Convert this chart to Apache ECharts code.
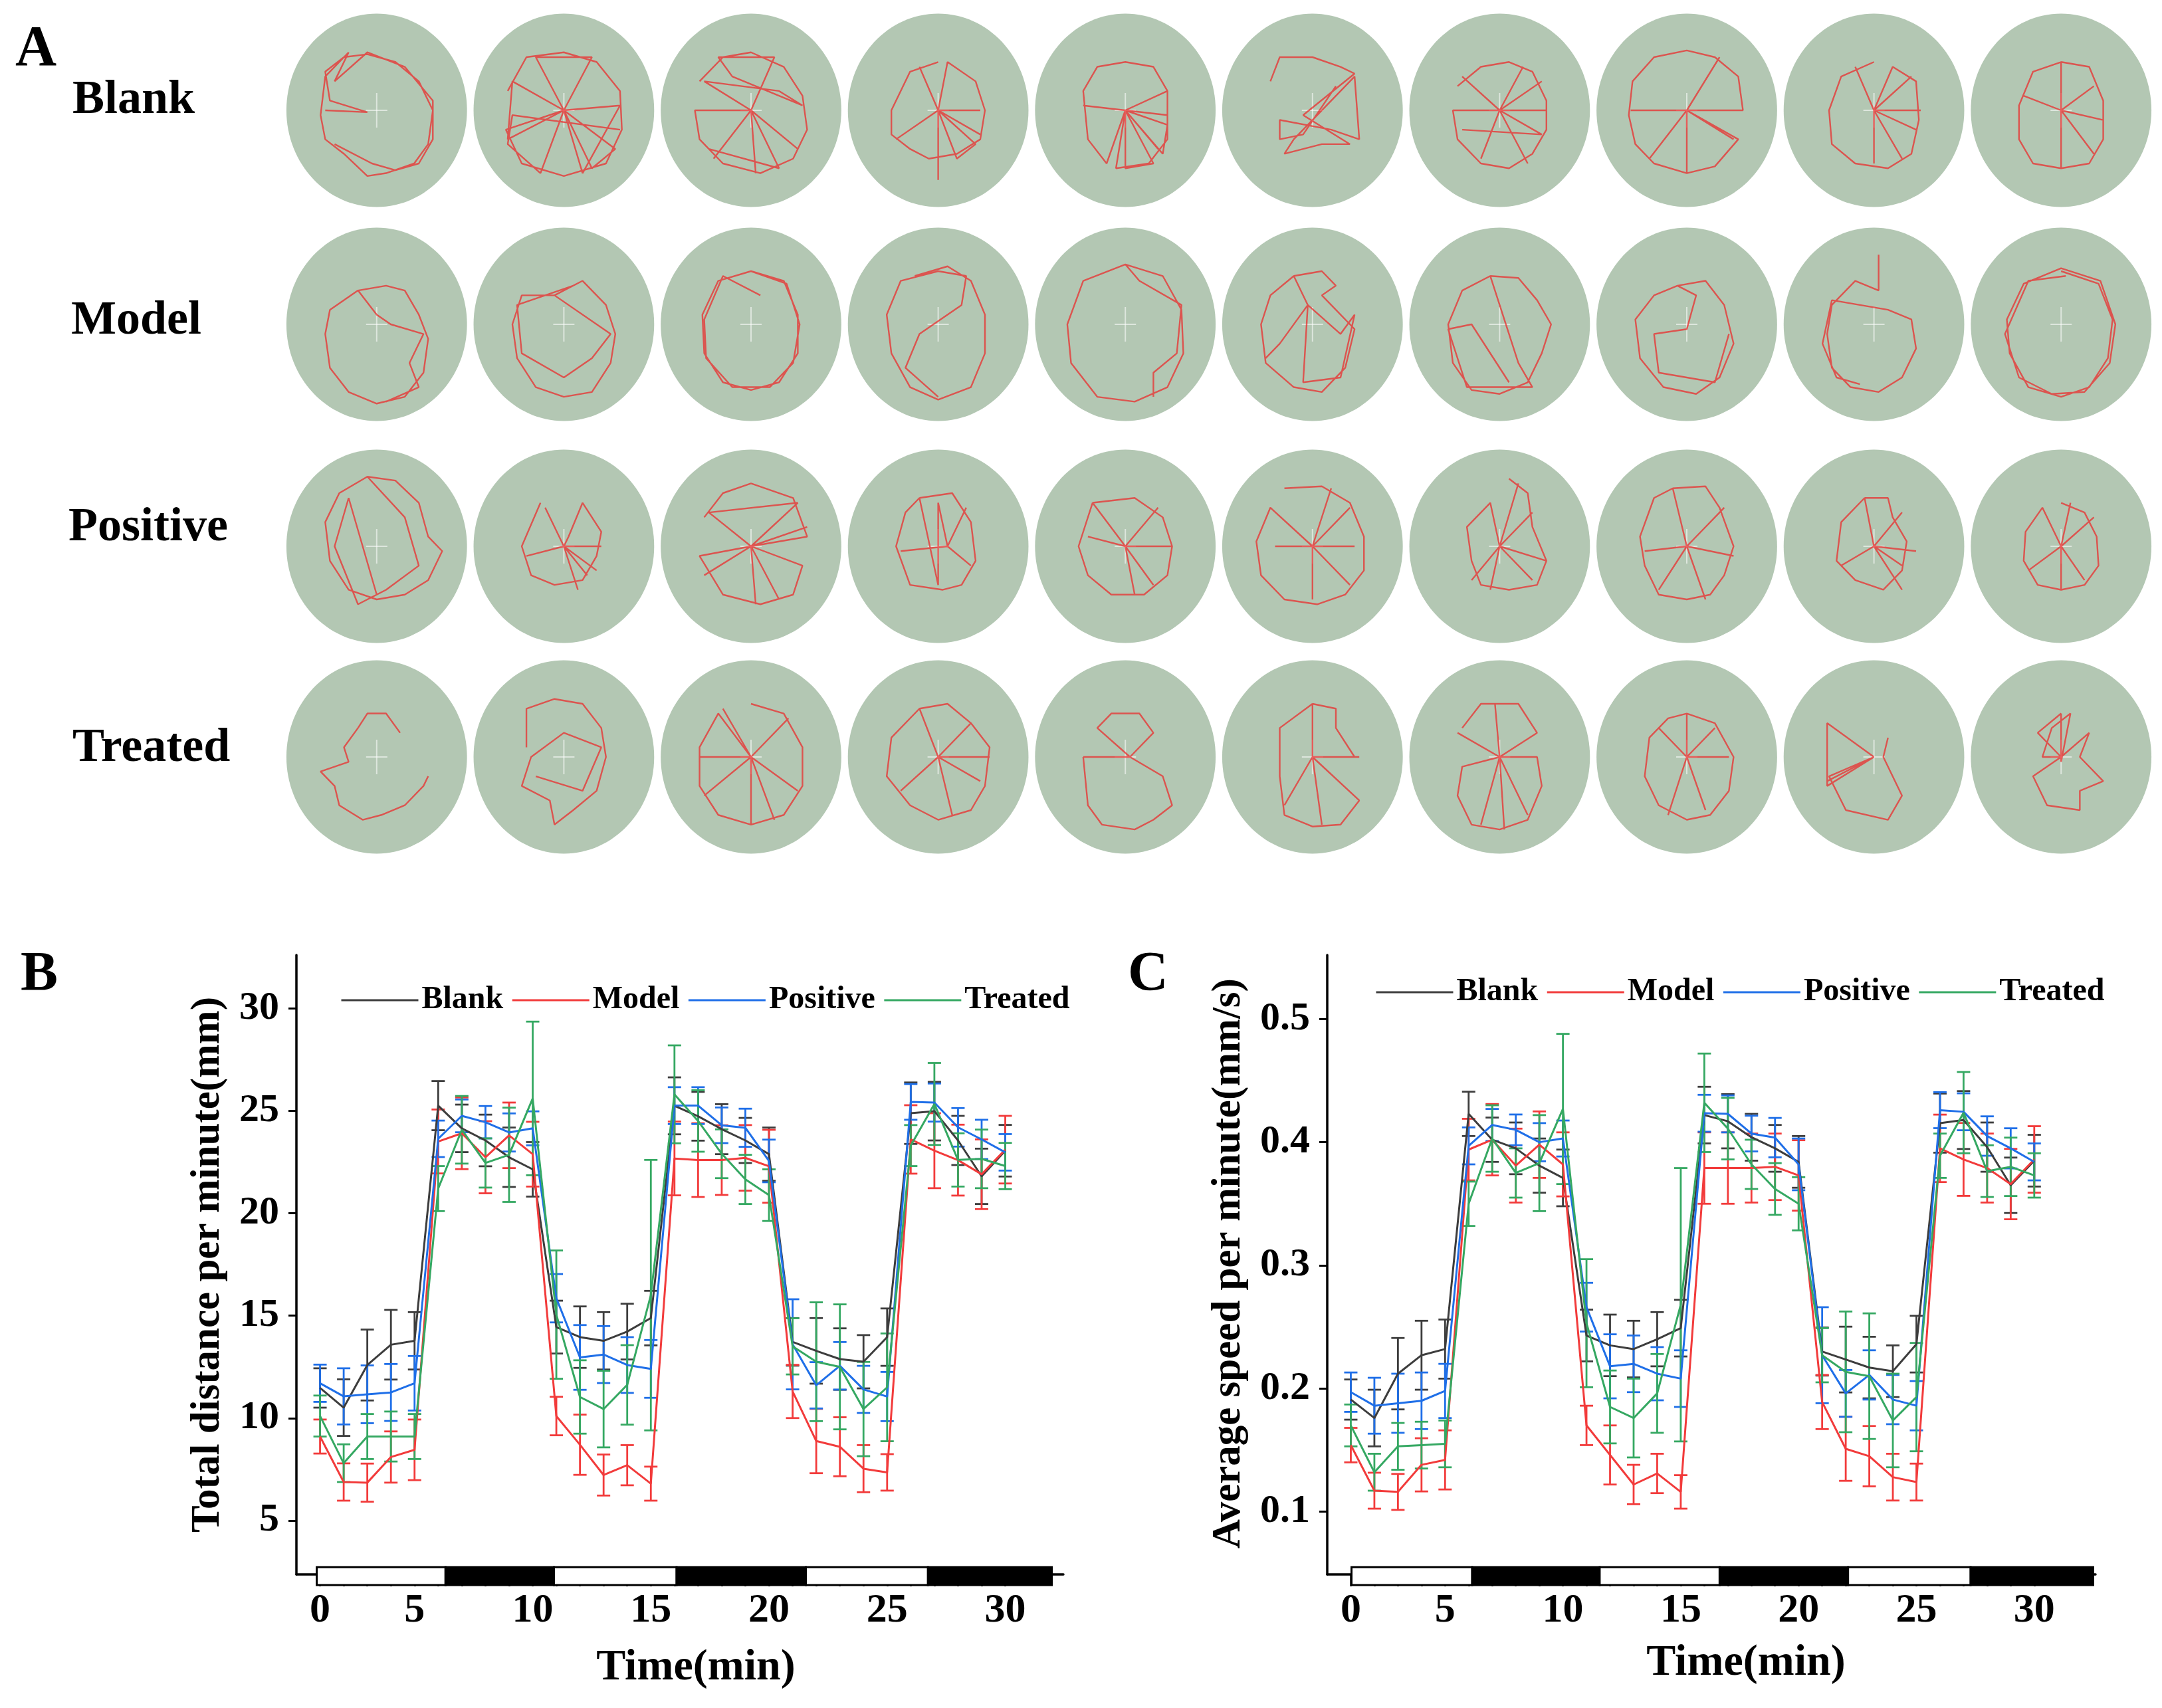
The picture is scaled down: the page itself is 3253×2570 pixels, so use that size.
<!DOCTYPE html>
<html>
<head>
<meta charset="utf-8">
<script src="https://cdn.jsdelivr.net/npm/echarts@6/dist/echarts.min.js"></script>
<style>
html, body { margin: 0; padding: 0; background: #fff; }
#main { width: 3253px; height: 2570px; }
</style>
</head>
<body>
<div id="main"></div>
<script>
// groups and time points
var groups = ['Blank', 'Model', 'Positive', 'Treated'];
var minutes = [1,2,3,4,5,6,7,8,9,10,11,12,13,14,15,16,17,18,19,20,21,22,23,24,25,26,27,28,29,30];
var xTickValues = [1, 5, 10, 15, 20, 25, 30];
var xTickLabels = ['0', '5', '10', '15', '20', '25', '30'];
var distTicks = [5, 10, 15, 20, 25, 30];
var speedTicks = [0.1, 0.2, 0.3, 0.4, 0.5];

// light / dark phases under the time axis: [start, end, dark]
var distPhases = [[0.86, 6.31, 0], [6.31, 10.9, 1], [10.9, 16.09, 0], [16.09, 21.56, 1], [21.56, 26.73, 0], [26.73, 31.97, 1]];
var speedPhases = [[1.03, 6.15, 0], [6.15, 11.56, 1], [11.56, 16.65, 0], [16.65, 22.1, 1], [22.1, 27.3, 0], [27.3, 32.5, 1]];

// B: total distance per minute (mm), mean and error
var distBlank = [11.47,10.51,12.59,13.58,13.77,25.25,24.14,23.55,22.73,22.14,14.44,13.95,13.77,14.22,14.88,25.24,24.73,24.1,23.55,22.88,13.72,13.28,12.88,12.75,13.95,24.88,24.98,23.55,21.8,23.05];
var distBlankSd = [0.96,1.38,1.73,1.7,1.4,1.2,1.16,1.26,1.45,1.33,1.29,1.5,1.4,1.36,1.33,1.39,1.19,1.22,1.1,1.3,1.16,1.6,1.5,1.3,1.4,1.5,1.43,1.2,1.35,1.26];
var distModel = [9.1,6.88,6.85,8.1,8.45,23.5,23.9,22.73,23.8,22.88,10.1,8.7,7.22,7.7,6.8,22.67,22.59,22.59,22.7,22.29,11.3,8.88,8.6,7.53,7.35,23.6,23.05,22.59,21.9,23.1];
var distModelSd = [0.83,0.91,0.93,1.25,1.48,1.56,1.75,1.76,1.6,1.58,0.94,1.47,1.0,0.98,0.83,1.8,1.8,1.7,1.6,1.78,1.3,1.57,1.44,1.15,0.89,1.67,1.83,1.73,1.7,1.65];
var distPositive = [11.7,11.06,11.16,11.25,11.7,23.63,24.75,24.44,23.94,24.14,15.85,12.96,13.1,12.59,12.4,25.25,25.25,24.29,24.17,22.55,13.6,11.6,12.55,11.4,11.05,25.43,25.4,24.19,23.6,22.97];
var distPositiveSd = [0.91,1.37,1.41,1.39,1.33,0.89,0.8,0.79,0.93,0.83,1.18,1.58,1.39,1.36,1.41,0.9,0.9,0.87,0.93,1.04,2.2,1.13,1.16,1.15,1.2,0.87,0.93,0.94,0.96,0.89];
var distTreated = [10.1,7.8,9.1,9.1,9.1,21.2,24.07,22.45,22.85,25.6,15.05,11.03,10.44,11.62,16.0,25.8,24.5,22.9,21.65,20.88,13.5,12.75,12.5,10.44,11.5,23.3,25.33,22.6,22.65,22.3];
var distTreatedSd = [1.0,0.92,1.1,1.22,1.1,1.1,1.65,1.2,2.3,3.75,3.13,1.79,1.87,1.94,6.6,2.39,1.5,1.19,1.2,1.26,1.37,2.9,3.05,2.3,2.63,1.0,2.0,1.3,1.43,1.13];

// C: average speed per minute (mm/s), mean and error
var speedBlank = [0.191,0.176,0.212,0.227,0.232,0.423,0.402,0.395,0.381,0.371,0.243,0.235,0.232,0.240,0.249,0.422,0.417,0.404,0.395,0.384,0.230,0.2235,0.217,0.214,0.236,0.4155,0.418,0.396,0.365,0.385];
var speedBlankSd = [0.0163,0.023,0.029,0.028,0.024,0.018,0.018,0.021,0.022,0.023,0.021,0.025,0.023,0.022,0.023,0.023,0.022,0.019,0.019,0.021,0.0195,0.0267,0.025,0.021,0.023,0.024,0.0235,0.02,0.0225,0.021];
var speedModel = [0.154,0.117,0.116,0.138,0.142,0.394,0.402,0.381,0.398,0.382,0.170,0.146,0.122,0.131,0.116,0.379,0.379,0.379,0.380,0.373,0.189,0.151,0.145,0.128,0.124,0.395,0.386,0.379,0.366,0.386];
var speedModelSd = [0.014,0.0146,0.0146,0.0216,0.024,0.025,0.029,0.03,0.027,0.026,0.016,0.024,0.016,0.016,0.0136,0.029,0.029,0.028,0.027,0.0286,0.022,0.026,0.0245,0.019,0.015,0.0274,0.0296,0.028,0.0286,0.027];
var speedPositive = [0.197,0.186,0.188,0.190,0.198,0.397,0.414,0.410,0.400,0.403,0.266,0.218,0.220,0.212,0.208,0.4235,0.423,0.407,0.4037,0.382,0.227,0.196,0.211,0.191,0.186,0.426,0.4247,0.405,0.395,0.384];
var speedPositiveSd = [0.016,0.0227,0.024,0.023,0.022,0.015,0.013,0.0125,0.0155,0.0146,0.0198,0.026,0.023,0.0216,0.023,0.015,0.015,0.0145,0.016,0.021,0.039,0.019,0.02,0.02,0.02,0.0146,0.015,0.016,0.0163,0.015];
var speedTreated = [0.170,0.132,0.153,0.154,0.155,0.350,0.403,0.375,0.383,0.427,0.253,0.185,0.176,0.196,0.268,0.432,0.411,0.382,0.362,0.350,0.227,0.2135,0.210,0.174,0.193,0.389,0.424,0.3765,0.380,0.373];
var speedTreatedSd = [0.017,0.015,0.019,0.019,0.019,0.018,0.027,0.02,0.039,0.061,0.052,0.0296,0.032,0.032,0.111,0.04,0.025,0.02,0.021,0.0216,0.022,0.049,0.051,0.038,0.044,0.018,0.033,0.021,0.0237,0.018];

// A: traced paths of the 10 animals per group, as u,v pairs (arena radius = 1, v downwards)
var trackBlank = [
  [-0.55,0,-0.1,0.02,-0.5,-0.1,-0.55,-0.4,-0.35,-0.55,-0.1,-0.58,0.2,-0.5,0.45,-0.3,0.6,0,0.55,0.35,0.4,0.55,0.1,0.65,-0.1,0.68,-0.35,0.45,-0.55,0.3,-0.6,0.05,-0.55,-0.35,-0.3,-0.6,-0.45,-0.3,-0.1,-0.6,0.3,-0.45,0.6,-0.1,0.6,0.3,0.45,0.55,0.2,0.62,-0.05,0.55,-0.45,0.35],
  [-0.6,-0.2,-0.4,-0.55,0,-0.6,0.35,-0.5,0.6,-0.2,0.62,0.2,0.45,0.55,0,0.68,-0.45,0.55,-0.62,0.2,0,0,0.55,0.4,0.3,0.6,0,0,-0.3,-0.55,0.3,-0.55,0,0,-0.6,0.3,-0.55,-0.3,0,0,0.6,-0.05,0.2,0.65,0,0,-0.25,0.65,-0.6,0.35,-0.55,0.05,0.6,0.2],
  [-0.55,-0.3,-0.3,-0.55,0,-0.6,0.35,-0.45,0.55,-0.15,0.6,0.2,0.45,0.5,0.1,0.65,-0.3,0.55,-0.55,0.3,-0.6,0,0,0,0.05,0.65,0,0,-0.4,0.5,0,0,0.5,0.4,0,0,-0.5,-0.3,0.3,-0.2,0.55,-0.05,-0.2,-0.35,-0.35,-0.55,0.25,-0.55,0,0,0.3,0.6,-0.45,0.4],
  [0,-0.5,-0.3,-0.4,-0.5,0,-0.5,0.25,-0.3,0.4,-0.1,0.5,0.2,0.45,0.45,0.3,0.5,0,0.4,-0.3,0.1,-0.5,0,0,0,0.72,0,0,0.45,0,0,0,-0.45,0.3,0,0,0.4,0.35,0.2,0.5,0,0,-0.2,-0.45,0,0,0.45,0.25],
  [-0.45,-0.05,0,0,0.45,-0.2,0,0,0.45,0.15,0.4,0.45,0,0,0.3,0.55,0,0.6,0,0,-0.2,0.55,-0.4,0.3,-0.45,-0.2,-0.3,-0.45,0,-0.5,0.3,-0.45,0.45,-0.2,0.45,0.3,0.25,0.55,-0.1,0.6,0,0,0.35,0.4,0,0,0.45,0.05],
  [-0.45,-0.3,-0.35,-0.55,0,-0.55,0.3,-0.45,0.45,-0.38,-0.1,0.05,0.4,0.35,0.1,0.35,-0.3,0.45,-0.2,0.3,0.45,-0.35,0.5,0.3,0.2,0.2,-0.35,0.1,-0.35,0.3,-0.1,0.25,0.25,-0.25],
  [-0.45,-0.25,-0.2,-0.45,0.1,-0.5,0.35,-0.4,0.5,-0.1,0.5,0.2,0.35,0.45,0.1,0.6,-0.2,0.55,-0.45,0.3,-0.5,0,0,0,0.5,0,0,0,0.3,0.55,0,0,-0.4,-0.35,0,0,0.45,-0.3,0,0,-0.2,0.5,0,0,0.25,-0.45,0,0,0.45,0.25,-0.4,0.2],
  [-0.6,0,0.6,0,0.55,-0.35,0.3,-0.55,0,-0.62,-0.35,-0.55,-0.58,-0.3,-0.62,0.05,-0.55,0.35,-0.35,0.55,0,0.65,0.3,0.58,0.55,0.3,0,0,0,0.65,0,0,0.35,-0.55,0,0,-0.4,0.5,0,0,0.5,0.3],
  [0,-0.5,-0.35,-0.35,-0.48,0,-0.45,0.35,-0.2,0.55,0.15,0.6,0.4,0.45,0.48,0.1,0.45,-0.3,0.2,-0.45,0,0,0.5,0,0,0,0.45,0.2,0,0,0,0.55,0,0,0.3,0.5,0,0,0.4,-0.35,0,0,-0.2,-0.45],
  [0,-0.5,0.3,-0.45,0.45,-0.1,0.45,0.3,0.3,0.55,0,0.6,-0.3,0.55,-0.45,0.3,-0.45,-0.05,-0.3,-0.4,0,-0.5,0,0,0.35,-0.25,0,0,0.45,0.1,0,0,0,0.6,0,0,0.35,0.45,0,0,-0.4,-0.15]
];
var trackModel = [
  [-0.2,-0.35,0.1,-0.4,0.3,-0.35,0.45,-0.1,0.55,0.15,0.5,0.5,0.3,0.75,0,0.82,-0.3,0.7,-0.5,0.45,-0.55,0.1,-0.5,-0.15,-0.2,-0.35,0,-0.1,0.15,0,0.5,0.1,0.35,0.4,0.45,0.65,0.1,0.8],
  [-0.1,-0.3,0.2,-0.45,0.45,-0.2,0.55,0.1,0.5,0.4,0.3,0.7,0,0.75,-0.3,0.65,-0.5,0.35,-0.55,0,-0.45,-0.3,-0.1,-0.3,0.5,0.1,0.3,0.35,0,0.55,-0.45,0.3,-0.5,-0.2,0.1,-0.4],
  [0,-0.55,0.35,-0.45,0.5,-0.1,0.5,0.3,0.3,0.6,0,0.68,-0.3,0.6,-0.5,0.3,-0.52,-0.1,-0.35,-0.45,0,-0.55,0.38,-0.42,0.52,0,0.45,0.4,0.2,0.65,-0.2,0.65,-0.48,0.35,-0.5,-0.05,-0.3,-0.5,0.1,-0.3],
  [-0.25,-0.5,0.1,-0.6,0.35,-0.45,0.5,-0.1,0.5,0.3,0.35,0.65,0,0.78,-0.3,0.65,-0.5,0.3,-0.55,-0.1,-0.4,-0.45,0,-0.55,0.3,-0.5,0.25,-0.2,-0.2,0.1,-0.35,0.45,0,0.75],
  [0,-0.62,0.4,-0.5,0.6,-0.15,0.62,0.3,0.45,0.65,0.1,0.8,-0.3,0.75,-0.58,0.4,-0.62,0,-0.45,-0.45,0,-0.62,0.15,-0.45,0.6,-0.2,0.55,0.3,0.3,0.5,0.3,0.75],
  [-0.2,-0.5,0.1,-0.55,0.25,-0.4,0.1,-0.3,0.45,0.05,0.35,0.45,0.1,0.7,-0.2,0.65,-0.5,0.4,-0.55,0,-0.45,-0.3,-0.2,-0.5,-0.05,-0.2,0.3,0.1,0.45,-0.1,0.3,0.55,-0.1,0.6,-0.05,-0.2,-0.35,0.2,-0.5,0.35],
  [-0.1,-0.5,0.2,-0.48,0.4,-0.25,0.55,0,0.45,0.3,0.3,0.6,0,0.72,-0.3,0.68,-0.5,0.4,-0.55,0,-0.4,-0.35,-0.1,-0.5,0,-0.2,0.2,0.4,0.35,0.65,-0.35,0.65,-0.55,0.05,-0.3,0,0.1,0.6],
  [-0.1,-0.4,0.2,-0.45,0.4,-0.2,0.5,0.2,0.35,0.55,0.1,0.72,-0.25,0.65,-0.5,0.35,-0.55,-0.05,-0.35,-0.3,-0.1,-0.4,0.1,-0.3,0,0.05,-0.35,0.1,-0.3,0.5,0.3,0.6,0.45,0.1],
  [0.05,-0.72,0.05,-0.35,-0.2,-0.45,-0.45,-0.2,-0.5,0.1,-0.45,0.45,-0.25,0.65,0.05,0.7,0.3,0.55,0.45,0.25,0.4,-0.05,0.15,-0.15,-0.45,-0.25,-0.55,0.2,-0.4,0.55,-0.15,0.62],
  [0,-0.55,0.4,-0.42,0.55,-0.05,0.5,0.35,0.3,0.65,0,0.75,-0.35,0.65,-0.55,0.3,-0.58,-0.05,-0.4,-0.42,0,-0.58,0.42,-0.45,0.58,0,0.52,0.4,0.25,0.7,-0.1,0.72,-0.45,0.55,-0.6,0.1,-0.35,-0.45,0.05,-0.5]
];
var trackPositive = [
  [-0.1,-0.72,0.2,-0.68,0.45,-0.45,0.55,-0.1,0.7,0.05,0.55,0.35,0.3,0.5,0,0.55,-0.3,0.45,-0.5,0.15,-0.55,-0.25,-0.4,-0.55,-0.1,-0.72,0.3,-0.3,0.45,0.2,0.1,0.45,-0.2,0.6,-0.45,0,-0.3,-0.5,0,0.5],
  [-0.25,-0.45,-0.45,0,-0.35,0.3,-0.1,0.4,0.2,0.35,0.35,0.1,0.4,-0.15,0.2,-0.45,0.05,-0.1,0,0,0.25,0.3,0,0,0.35,0.25,0,0,-0.4,0.1,0,0,0.4,0,0,0,0.15,0.45,0,0,-0.2,-0.4],
  [-0.5,-0.3,-0.3,-0.55,0,-0.65,0.45,-0.5,0.6,-0.1,0,0,0.55,0.2,0.45,0.5,0.1,0.6,-0.3,0.5,-0.55,0.1,0,0,-0.5,0.3,0,0,0.3,0.55,0,0,-0.45,-0.35,0.5,-0.45,0,0,0.6,-0.2,0,0,0.05,0.6],
  [-0.2,-0.5,0.15,-0.55,0.35,-0.25,0.4,0.15,0.25,0.4,0.05,0.45,-0.3,0.4,-0.45,0,-0.35,-0.35,-0.2,-0.5,0,0.4,0,-0.45,0.1,0,0.3,-0.4,0.1,0,-0.4,0.05,0.1,0,0.35,0.2],
  [-0.35,-0.45,0.1,-0.5,0.4,-0.3,0.5,0,0.45,0.3,0.2,0.5,-0.15,0.5,-0.4,0.3,-0.5,0,-0.35,-0.45,0,0,0.5,0,0,0,0.1,0.5,0,0,-0.4,-0.1,0,0,0.35,-0.4,0,0,0.3,0.4],
  [-0.3,-0.6,0.1,-0.62,0.4,-0.45,0.55,-0.1,0.55,0.25,0.35,0.5,0.05,0.6,-0.3,0.55,-0.55,0.3,-0.6,-0.05,-0.45,-0.4,0,0,0.2,-0.6,0,0,0.4,-0.4,0,0,0.45,0,0,0,0.4,0.4,0,0,-0.4,0,0,0,0,0.55],
  [0.1,-0.7,0.3,-0.55,0.35,-0.2,0.5,0.15,0.4,0.4,0.1,0.45,-0.2,0.4,-0.3,0.15,-0.35,-0.2,-0.1,-0.45,0,0,0.2,-0.65,0,0,0.35,-0.35,0,0,0.35,0.35,0,0,-0.3,0.35,0,0,0.5,0.15,0,0,-0.1,0.45],
  [-0.15,-0.6,0.2,-0.62,0.35,-0.4,0.5,0,0.4,0.3,0.25,0.5,0,0.55,-0.3,0.5,-0.45,0.2,-0.5,-0.1,-0.35,-0.5,-0.15,-0.6,0,0,-0.45,0.05,0,0,0.4,-0.4,0,0,-0.3,0.45,0,0,0.2,0.55,0,0,0.5,0.1],
  [-0.1,-0.5,0.15,-0.5,0.2,-0.3,0.35,-0.05,0.3,0.25,0.1,0.45,-0.2,0.35,-0.4,0.15,-0.35,-0.25,-0.1,-0.5,0,0,0.3,-0.35,0,0,0.45,0.05,0,0,0.3,0.2,0,0,0.3,0.45,0,0,-0.35,0.2],
  [0,-0.45,0.25,-0.35,0.38,-0.1,0.4,0.2,0.25,0.4,0,0.45,-0.25,0.4,-0.4,0.15,-0.38,-0.15,-0.2,-0.4,0,0,0.35,-0.3,0,0,0,0.45,0,0,-0.35,0.25,0,0,0.25,0.35,0,0,0.1,-0.45]
];
var trackTreated = [
  [0.25,-0.25,0.1,-0.45,-0.1,-0.45,-0.2,-0.3,-0.35,-0.1,-0.3,0.05,-0.6,0.15,-0.45,0.3,-0.4,0.5,-0.15,0.65,0.05,0.6,0.3,0.5,0.5,0.3,0.55,0.2],
  [-0.4,-0.1,-0.4,-0.5,-0.1,-0.6,0.2,-0.55,0.4,-0.3,0.45,0,0.35,0.35,0.1,0.55,-0.1,0.7,-0.15,0.45,-0.45,0.3,-0.35,0,0,-0.25,0.4,-0.1,0.2,0.35,-0.3,0.2],
  [0,-0.55,0.35,-0.45,0.55,-0.1,0.55,0.3,0.35,0.6,0,0.7,-0.35,0.6,-0.55,0.3,-0.55,-0.1,-0.35,-0.45,0,0,0,0.7,0,0,-0.5,0.4,0,0,0.5,0.35,0,0,-0.3,-0.5,0,0,0.4,-0.4,0,0,-0.55,0,0,0,0.25,0.65],
  [-0.2,-0.5,0.1,-0.55,0.35,-0.35,0.55,-0.1,0.5,0.3,0.35,0.55,0,0.65,-0.3,0.5,-0.55,0.2,-0.5,-0.2,-0.2,-0.5,0,0,0.55,0,0,0,0.45,0.25,0,0,-0.4,0.35,0,0,0.15,0.6,0,0,0.35,-0.35],
  [-0.45,0,0.05,0,-0.3,-0.3,-0.15,-0.45,0.15,-0.45,0.3,-0.25,0.05,0,0.4,0.2,0.5,0.5,0.3,0.65,0.1,0.75,-0.25,0.7,-0.4,0.5,-0.45,0],
  [0,-0.55,0.25,-0.5,0.25,-0.3,0.45,0,0,0,0.5,0.45,0.3,0.7,0,0.72,-0.3,0.6,-0.35,0.2,-0.35,-0.3,0,-0.55,0,0,0.5,0.45,0,0,0.1,0.7,0,0,-0.3,0.5,0,0,0.5,0],
  [-0.4,-0.3,-0.2,-0.55,0.2,-0.55,0.4,-0.25,0,0,-0.45,-0.25,0,0,0.4,0,0.45,0.3,0.3,0.65,0,0.75,-0.3,0.7,-0.45,0.4,-0.4,0.1,0,0,0.05,0.75,0,0,0.3,0.6,0,0,-0.2,0.7,0,0,-0.05,-0.55],
  [0,-0.45,0.3,-0.35,0.5,0,0.45,0.35,0.25,0.6,0,0.65,-0.3,0.5,-0.45,0.2,-0.4,-0.2,-0.2,-0.4,0,-0.45,0,0,-0.3,-0.3,0,0,0.45,0,0,0,0.2,0.55,0,0,-0.2,0.6,0,0,0.3,-0.3],
  [0,0,-0.5,-0.35,-0.5,0.3,0,0,-0.5,0.25,0,0,-0.48,0.2,-0.3,0.55,0.15,0.65,0.3,0.4,0.1,0,0.15,-0.2],
  [0,-0.45,0,0.05,0.1,-0.45,-0.1,-0.3,-0.2,0,0,0,0.3,-0.25,0.2,0,0.45,0.25,0.2,0.35,0.2,0.55,-0.15,0.5,-0.3,0.2,0,0,-0.25,-0.25,0,-0.45]
];

var colors = { Blank: '#3d3d3d', Model: '#f23b3b', Positive: '#1f6fe8', Treated: '#35a862' };
var FONT = "'Liberation Serif', 'Times New Roman', serif";

var chart = echarts.init(document.getElementById('main'), null, { renderer: 'canvas' });

var rowTops = [21, 343, 677, 994];
var tracks = [trackBlank, trackModel, trackPositive, trackTreated];

var grids = [], xAxes = [], yAxes = [], series = [];

// panel A: one grid per group row, animal i sits at x = 2 * i
rowTops.forEach(function (t, r) {
    grids.push({ left: 426, top: t - 15, width: 2816, height: 320 });
    xAxes.push({ type: 'value', gridIndex: r, min: -1, max: 19, show: false });
    yAxes.push({ type: 'value', gridIndex: r, min: -1.1, max: 1.1, inverse: true, show: false });
    var arenas = tracks[r].map(function (p, i) { return [2 * i, 0]; });
    series.push({
        type: 'custom', xAxisIndex: r, yAxisIndex: r, silent: true, z: 1,
        data: arenas,
        encode: { x: 0, y: 1 },
        renderItem: function (params, api) {
            var c = api.coord([api.value(0), api.value(1)]);
            var s = api.size([0.965, 1.0]);
            var cross = 'rgba(255,255,255,0.55)';
            return {
                type: 'group', children: [
                    { type: 'ellipse', shape: { cx: c[0], cy: c[1], rx: s[0], ry: s[1] }, style: { fill: '#b3c7b3' } },
                    { type: 'line', shape: { x1: c[0] - 16, y1: c[1], x2: c[0] + 16, y2: c[1] }, style: { stroke: cross, lineWidth: 2 } },
                    { type: 'line', shape: { x1: c[0], y1: c[1] - 26, x2: c[0], y2: c[1] + 26 }, style: { stroke: cross, lineWidth: 2 } }
                ]
            };
        }
    });
    tracks[r].forEach(function (path, i) {
        var pts = [];
        for (var k = 0; k + 1 < path.length; k += 2) {
            pts.push([2 * i + path[k], path[k + 1]]);
        }
        series.push({
            type: 'line', xAxisIndex: r, yAxisIndex: r, silent: true, z: 2,
            data: pts, symbol: 'none', smooth: false,
            lineStyle: { color: 'rgba(235,40,40,0.72)', width: 2.4 }
        });
    });
});

// panels B and C
function addPanel(gi, left, width, xMax, yMin, yMax, yTicks, yFmt, means, sds, phases) {
    grids.push({ left: left, top: 1437, width: width, height: 932 });
    xAxes.push({
        type: 'value', gridIndex: gi, min: 0, max: xMax,
        axisLine: { lineStyle: { color: '#000', width: 3.5 } },
        axisTick: { show: true, customValues: minutes, length: 18, lineStyle: { color: '#000', width: 2.5 } },
        axisLabel: {
            customValues: xTickValues, margin: 24,
            formatter: function (v) { var k = xTickValues.indexOf(v); return k < 0 ? '' : xTickLabels[k]; },
            fontFamily: FONT, fontWeight: 'bold', fontSize: 62, color: '#000'
        },
        splitLine: { show: false }
    });
    yAxes.push({
        type: 'value', gridIndex: gi, min: yMin, max: yMax,
        axisLine: { show: true, lineStyle: { color: '#000', width: 3.5 } },
        axisTick: { show: true, customValues: yTicks, length: 12, lineStyle: { color: '#000', width: 3 } },
        axisLabel: {
            customValues: yTicks, margin: 26, formatter: yFmt,
            fontFamily: FONT, fontWeight: 'bold', fontSize: 60, color: '#000'
        },
        splitLine: { show: false }
    });
    groups.forEach(function (g, k) {
        var col = colors[g];
        series.push({
            name: g, type: 'line', xAxisIndex: gi, yAxisIndex: gi, z: 3,
            data: minutes.map(function (m, i) { return [m, means[k][i]]; }),
            symbol: 'none', lineStyle: { color: col, width: 3 }, itemStyle: { color: col }
        });
        series.push({
            type: 'custom', xAxisIndex: gi, yAxisIndex: gi, z: 3, silent: true,
            data: minutes.map(function (m, i) { return [m, means[k][i], sds[k][i]]; }),
            encode: { x: 0, y: 1 },
            renderItem: function (params, api) {
                var x = api.value(0), m = api.value(1), s = api.value(2);
                var hi = api.coord([x, m + s]), lo = api.coord([x, m - s]);
                var w = 10, st = { stroke: col, lineWidth: 2.8 };
                return {
                    type: 'group', children: [
                        { type: 'line', shape: { x1: hi[0], y1: hi[1], x2: lo[0], y2: lo[1] }, style: st },
                        { type: 'line', shape: { x1: hi[0] - w, y1: hi[1], x2: hi[0] + w, y2: hi[1] }, style: st },
                        { type: 'line', shape: { x1: lo[0] - w, y1: lo[1], x2: lo[0] + w, y2: lo[1] }, style: st }
                    ]
                };
            }
        });
    });
    // light/dark bar along the time axis
    series.push({
        type: 'custom', xAxisIndex: gi, yAxisIndex: gi, z: 5, silent: true, clip: false,
        data: phases,
        encode: { x: [0, 1] },
        renderItem: function (params, api) {
            var a = api.coord([api.value(0), yMin]);
            var b = api.coord([api.value(1), yMin]);
            return {
                type: 'rect',
                shape: { x: a[0], y: a[1] - 11, width: b[0] - a[0], height: 27 },
                style: { fill: api.value(2) ? '#000' : '#fff', stroke: '#000', lineWidth: 3 }
            };
        }
    });
}

addPanel(4, 446, 1154, 32.46, 2.37, 32.6, distTicks, function (v) { return String(v); },
    [distBlank, distModel, distPositive, distTreated],
    [distBlankSd, distModelSd, distPositiveSd, distTreatedSd], distPhases);
addPanel(5, 1997, 1156, 32.6, 0.049, 0.552, speedTicks, function (v) { return v.toFixed(1); },
    [speedBlank, speedModel, speedPositive, speedTreated],
    [speedBlankSd, speedModelSd, speedPositiveSd, speedTreatedSd], speedPhases);

var legendText = { fontFamily: FONT, fontWeight: 'bold', fontSize: 48, color: '#000' };
var legendBase = {
    itemWidth: 116, itemHeight: 24, itemGap: 12, data: groups, textStyle: legendText,
    selectedMode: false, itemStyle: { opacity: 0 }, lineStyle: { width: 3 }
};

function label(text, x, y, size, opts) {
    var o = {
        type: 'text', x: x, y: y, z: 10,
        style: { text: text, fontFamily: FONT, fontWeight: 'bold', fontSize: size, fill: '#000',
                 align: (opts && opts.align) || 'left', verticalAlign: 'middle' }
    };
    if (opts && opts.rotation) o.rotation = opts.rotation;
    return o;
}

var option = {
    backgroundColor: '#fff',
    animation: false,
    grid: grids,
    xAxis: xAxes,
    yAxis: yAxes,
    legend: [
        Object.assign({ left: 507, top: 1476 }, legendBase),
        Object.assign({ left: 2064, top: 1464 }, legendBase)
    ],
    series: series,
    graphic: [
        label('A', 23, 76, 86),
        label('Blank', 109, 151, 72),
        label('Model', 107, 483, 72),
        label('Positive', 103, 794, 72),
        label('Treated', 109, 1126, 72),
        label('B', 31, 1468, 84),
        label('C', 1697, 1468, 84),
        label('Total distance per minute(mm)', 313, 1903, 61, { align: 'center', rotation: Math.PI / 2 }),
        label('Average speed per minute(mm/s)', 1849, 1901, 61, { align: 'center', rotation: Math.PI / 2 }),
        label('Time(min)', 1047, 2510, 66, { align: 'center' }),
        label('Time(min)', 2627, 2503, 66, { align: 'center' })
    ]
};

chart.setOption(option);
</script>
</body>
</html>
